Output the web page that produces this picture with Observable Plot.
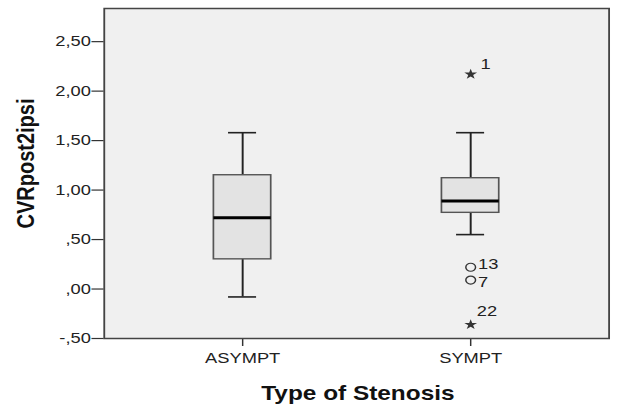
<!DOCTYPE html>
<html>
<head>
<meta charset="utf-8">
<script src="https://cdn.jsdelivr.net/npm/d3@7"></script>
<script src="https://cdn.jsdelivr.net/npm/@observablehq/plot@0.6"></script>
<style>
  html, body { margin: 0; padding: 0; background: #ffffff; }
  #chart { width: 617px; height: 406px; overflow: hidden; }
  #chart svg { transform: scaleX(1.2194); transform-origin: 0 0; display: block; }
</style>
</head>
<body>
<div id="chart"></div>
<script>
// ---- data ----
const groups = ["ASYMPT", "SYMPT"];
const whiskerLow = [-0.08, 0.55];
const q1 = [0.30, 0.77];
const median = [0.72, 0.89];
const q3 = [1.15, 1.12];
const whiskerHigh = [1.58, 1.58];

const outlierGroup = ["SYMPT", "SYMPT", "SYMPT", "SYMPT"];
const outlierValue = [2.17, 0.22, 0.09, -0.36];
const outlierId = ["1", "13", "7", "22"];
const outlierKind = ["extreme", "outlier", "outlier", "extreme"];

const yTicks = [-0.5, 0, 0.5, 1, 1.5, 2, 2.5];

// ---- tables built from the arrays ----
const boxes = groups.map((g, i) => ({
  group: g, lo: whiskerLow[i], q1: q1[i], med: median[i], q3: q3[i], hi: whiskerHigh[i]
}));
const outliers = outlierId.map((id, i) => ({
  group: outlierGroup[i], value: outlierValue[i], id, kind: outlierKind[i]
}));

const fmt = d => d.toFixed(2).replace(".", ",").replace(/^(-?)0,/, "$1,");

// label offsets (style only)
const labelOffset = { "1": [8, -16], "13": [6, -9], "7": [6, -4], "22": [5, -19] };

const font = "'Liberation Sans', Arial, sans-serif";

const plot = Plot.plot({
  width: 506,
  height: 406,
  marginLeft: 85,
  marginRight: 7,
  marginTop: 8,
  marginBottom: 68,
  style: { fontFamily: font, fontSize: "15px", color: "#222", background: "#ffffff", maxWidth: "none", overflow: "visible" },
  x: { type: "band", domain: groups, paddingInner: 0.747, paddingOuter: 0.475, label: null },
  y: { domain: [-0.5, 2.835], label: null },
  marks: [
    Plot.frame({ fill: "#f0f0f0" }),
    Plot.axisY({ ticks: yTicks, tickFormat: fmt, tickSize: 10, tickPadding: 1, stroke: "#333", strokeWidth: 1.2, fontSize: 15, label: null }),
    Plot.axisX({ tickSize: 8, tickPadding: 6, stroke: "#333", strokeWidth: 1.2, fontSize: 15, label: null }),
    // whiskers
    Plot.ruleX(boxes, { x: "group", y1: "lo", y2: "q1", stroke: "#222", strokeWidth: 1.6 }),
    Plot.ruleX(boxes, { x: "group", y1: "q3", y2: "hi", stroke: "#222", strokeWidth: 1.6 }),
    Plot.tickY(boxes, { x: "group", y: "lo", stroke: "#222", strokeWidth: 1.6, insetLeft: 12, insetRight: 12 }),
    Plot.tickY(boxes, { x: "group", y: "hi", stroke: "#222", strokeWidth: 1.6, insetLeft: 12, insetRight: 12 }),
    // boxes
    Plot.barY(boxes, { x: "group", y1: "q1", y2: "q3", fill: "#e3e3e3", stroke: "#555", strokeWidth: 1.4 }),
    Plot.tickY(boxes, { x: "group", y: "med", stroke: "#000", strokeWidth: 3 }),
    // outliers
    Plot.dot(outliers.filter(d => d.kind === "outlier"), { x: "group", y: "value", r: 4, stroke: "#333", strokeWidth: 1.2, fill: "none" }),
    Plot.dot(outliers.filter(d => d.kind === "extreme"), { x: "group", y: "value", r: 3.3, symbol: "star", fill: "#333", stroke: "none" }),
    ...outliers.map(o => Plot.text([o], {
      x: "group", y: "value", text: "id", textAnchor: "start", lineAnchor: "top",
      dx: labelOffset[o.id][0], dy: labelOffset[o.id][1], fontSize: 15, fill: "#222"
    })),
    // axis titles
    Plot.text(["CVRpost2ipsi"], { frameAnchor: "left", textAnchor: "middle", lineAnchor: "middle", rotate: -90, dx: -64, dy: -10, fontSize: 20, fontWeight: "bold", fill: "#111" }),
    Plot.text(["Type of Stenosis"], { frameAnchor: "bottom", textAnchor: "middle", lineAnchor: "top", dx: 1, dy: 47, fontSize: 20, fontWeight: "bold", fill: "#111" }),
    Plot.frame({ stroke: "#444", strokeWidth: 1.5 })
  ]
});

document.getElementById("chart").appendChild(plot);
</script>
</body>
</html>
